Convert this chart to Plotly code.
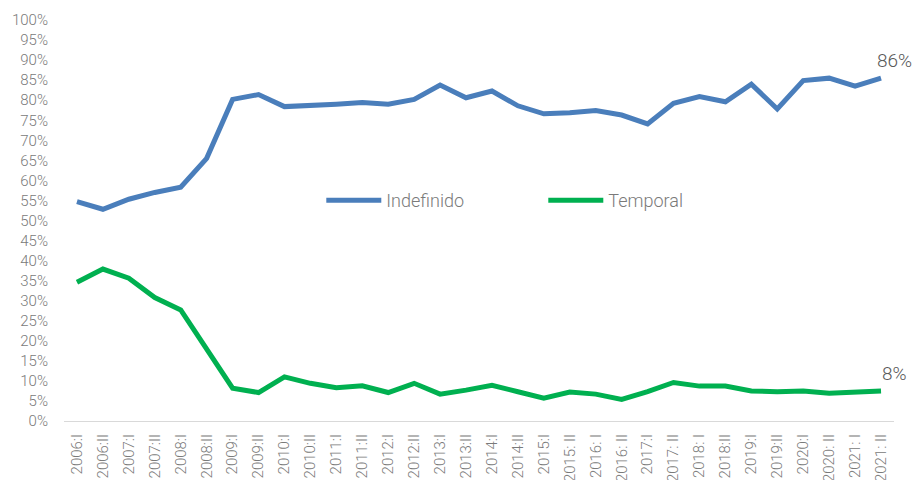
import plotly.graph_objects as go

periods = ["2006:I", "2006:II", "2007:I", "2007:II", "2008:I", "2008:II",
           "2009:I", "2009:II", "2010:I", "2010:II", "2011:I", "2011:II",
           "2012:I", "2012:II", "2013:I", "2013:II", "2014:I", "2014:II",
           "2015:I", "2015: II", "2016: I", "2016: II", "2017:I", "2017: II",
           "2018: I", "2018:II", "2019:I", "2019:II", "2020:I", "2020: II",
           "2021: I", "2021: II"]

indefinido = [54.7, 52.8, 55.3, 57.0, 58.3, 65.5, 80.2, 81.4, 78.4, 78.6,
              79.0, 79.4, 79.0, 80.2, 83.8, 80.6, 82.3, 78.6, 76.6, 76.9,
              77.4, 76.3, 74.1, 79.2, 80.9, 79.6, 84.0, 77.8, 84.9, 85.5,
              83.5, 85.5]

temporal = [34.6, 37.9, 35.6, 30.8, 27.7, 18.2, 8.2, 7.1, 11.0, 9.4,
            8.3, 8.8, 7.1, 9.4, 6.7, 7.7, 8.9, 7.3, 5.7, 7.2,
            6.7, 5.4, 7.3, 9.6, 8.7, 8.7, 7.5, 7.3, 7.5, 6.9,
            7.1, 7.5]

y_ticks = list(range(0, 101, 5))
y_tick_labels = [f"{v}%" for v in y_ticks]

BLUE = "#4A7EBB"
GREEN = "#00B050"
GRAY = "#7a7a7a"
FONT = "Roboto"

fig = go.Figure()
fig.add_trace(go.Scatter(x=periods, y=indefinido, mode="lines", name="Indefinido",
                         line=dict(color=BLUE, width=5)))
fig.add_trace(go.Scatter(x=periods, y=temporal, mode="lines", name="Temporal",
                         line=dict(color=GREEN, width=5)))

for series in (indefinido, temporal):
    fig.add_annotation(x=periods[-1], y=series[-1], text=f"{series[-1]:.0f}%",
                       showarrow=False, xanchor="center", yanchor="bottom",
                       xshift=13, yshift=4,
                       font=dict(family=FONT, size=19, color="#595959", weight=300))

fig.update_layout(
    width=914, height=480,
    margin=dict(l=64, r=20, t=20, b=59, autoexpand=False),
    plot_bgcolor="white", paper_bgcolor="white",
    font=dict(family=FONT, color=GRAY, weight=300),
    showlegend=True,
    legend=dict(orientation="h", x=0.31, y=0.55, xanchor="left", yanchor="middle",
                font=dict(family=FONT, size=18, color=GRAY, weight=300),
                itemwidth=55, entrywidth=152, entrywidthmode="pixels",
                bgcolor="rgba(0,0,0,0)"),
)

fig.update_xaxes(type="category", showgrid=False, tickangle=-90, automargin=False,
                 tickfont=dict(family=FONT, size=15, color=GRAY, weight=300),
                 showline=True, linecolor="#d9d9d9", linewidth=1,
                 ticks="", ticklabelstandoff=6, zeroline=False,
                 range=[-0.5, len(periods) - 0.5])
fig.update_yaxes(range=[0, 100], tickvals=y_ticks, ticktext=y_tick_labels,
                 showgrid=False, zeroline=False, showline=False, automargin=False,
                 ticks="outside", ticklen=12, tickcolor="white",
                 tickfont=dict(family=FONT, size=15, color=GRAY, weight=300))

fig.write_html("out.html", config={"displayModeBar": False},
               post_script="document.body.style.margin='0';document.body.style.overflow='hidden';")
